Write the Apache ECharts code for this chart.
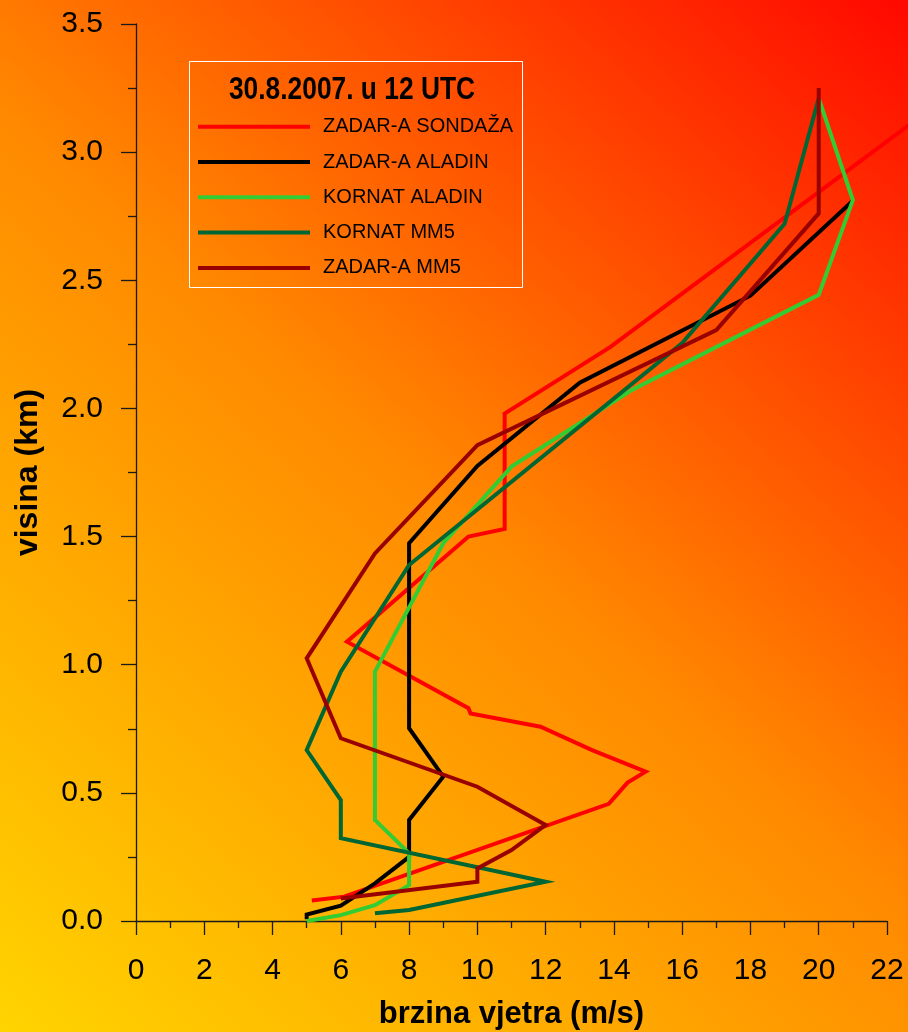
<!DOCTYPE html>
<html>
<head>
<meta charset="utf-8">
<script src="https://cdn.jsdelivr.net/npm/echarts@6/dist/echarts.min.js"></script>
<style>
html,body{margin:0;padding:0;background:#fff;}
#chart{width:908px;height:1032px;}
</style>
</head>
<body>
<div id="chart"></div>
<script>
// ---- data (wind speed m/s, height km) ----
const seriesNames = ['ZADAR-A SONDAŽA', 'ZADAR-A ALADIN', 'KORNAT ALADIN', 'KORNAT MM5', 'ZADAR-A MM5'];
const seriesColors = ['#ff0000', '#000000', '#33cc33', '#006633', '#990000'];

const sondazaSpeed  = [5.15, 6.1, 13.85, 14.4, 14.93, 13.36, 11.85, 9.8, 9.74, 6.18, 9.74, 10.8, 10.8, 13.9, 24];
const sondazaHeight = [0.08, 0.095, 0.457, 0.54, 0.583, 0.667, 0.758, 0.81, 0.83, 1.09, 1.50, 1.53, 1.98, 2.24, 3.24];

const zadarAladinSpeed  = [5, 5, 6, 7, 8, 8, 9, 8, 8, 10, 13, 18, 21];
const zadarAladinHeight = [0.007, 0.025, 0.06, 0.147, 0.25, 0.394, 0.563, 0.752, 1.474, 1.776, 2.10, 2.44, 2.81];

const kornatAladinSpeed  = [5, 6, 7, 8, 8, 7, 7, 9, 11, 14.5, 20, 21, 20];
const kornatAladinHeight = [0.0, 0.023, 0.062, 0.14, 0.264, 0.394, 0.973, 1.474, 1.773, 2.07, 2.443, 2.813, 3.21];

const kornatMM5Speed  = [7, 8, 12, 6, 6, 5, 6, 8, 16, 19, 20];
const kornatMM5Height = [0.03, 0.043, 0.153, 0.323, 0.472, 0.667, 0.973, 1.389, 2.255, 2.72, 3.21];

const zadarMM5Speed  = [6, 10, 10, 11, 12, 10, 6, 5, 7, 10, 17, 20, 20];
const zadarMM5Height = [0.088, 0.153, 0.205, 0.277, 0.375, 0.524, 0.713, 1.025, 1.434, 1.857, 2.306, 2.761, 3.25];

const xTicks = {min: 0, max: 22, interval: 2};
const yTicks = {min: 0, max: 3.5, interval: 0.5};
const legendTitle = '30.8.2007. u 12 UTC';
const xTitle = 'brzina vjetra (m/s)';
const yTitle = 'visina (km)';

// ---- build ----
const speeds  = [sondazaSpeed, zadarAladinSpeed, kornatAladinSpeed, kornatMM5Speed, zadarMM5Speed];
const heights = [sondazaHeight, zadarAladinHeight, kornatAladinHeight, kornatMM5Height, zadarMM5Height];

const SANS = "'Liberation Sans', Arial, sans-serif";
const axisColor = '#1a1a1a';

// layout
const W = 908, gridLeft = 136, gridRight = 21, gridTop = 24, gridBottom = 111;
const plotW = W - gridLeft - gridRight;
// second (hidden) coordinate system with identical scale that reaches the canvas edge,
// so the sounding line can run past the last tick as in the original
const extMax = xTicks.max * (W - gridLeft) / plotW;

const series = seriesNames.map((name, i) => ({
  name: name,
  type: 'line',
  xAxisIndex: i === 0 ? 1 : 0,
  yAxisIndex: i === 0 ? 1 : 0,
  data: speeds[i].map((s, k) => [s, heights[i][k]]),
  symbol: 'none',
  clip: true,
  color: seriesColors[i],
  lineStyle: {color: seriesColors[i], width: 4, join: 'miter'},
  z: 2 + i
}));

const axisCommon = {
  axisLine: {show: true, onZero: false, lineStyle: {color: axisColor, width: 1.3}},
  splitLine: {show: false}
};

const chart = echarts.init(document.getElementById('chart'), null, {renderer: 'canvas'});
chart.setOption({
  animation: false,
  backgroundColor: {
    type: 'linear', x: 0, y: 1032, x2: 908, y2: 0, global: true,
    colorStops: [
      {offset: 0, color: '#ffd400'},
      {offset: 0.5, color: '#ff8a00'},
      {offset: 1, color: '#ff0800'}
    ]
  },
  grid: [
    {left: gridLeft, right: gridRight, top: gridTop, bottom: gridBottom, containLabel: false, outerBoundsMode: 'none'},
    {left: gridLeft, right: 0, top: gridTop, bottom: gridBottom, containLabel: false, outerBoundsMode: 'none'}
  ],
  xAxis: [{
    ...axisCommon,
    gridIndex: 0,
    type: 'value', min: xTicks.min, max: xTicks.max, interval: xTicks.interval,
    name: xTitle, nameLocation: 'middle', nameGap: 78,
    nameTextStyle: {fontFamily: SANS, fontWeight: 'bold', fontSize: 31, color: '#000'},
    axisTick: {show: true, inside: false, length: 14, lineStyle: {color: axisColor, width: 1.3}},
    minorTick: {show: true, splitNumber: 2, length: 7, lineStyle: {color: axisColor, width: 1.3}},
    axisLabel: {margin: 35, fontFamily: SANS, fontSize: 30, color: '#000'}
  }, {
    gridIndex: 1, type: 'value', min: xTicks.min, max: extMax, show: false
  }],
  yAxis: [{
    ...axisCommon,
    gridIndex: 0,
    type: 'value', min: yTicks.min, max: yTicks.max, interval: yTicks.interval,
    name: yTitle, nameLocation: 'middle', nameGap: 92, nameRotate: 90,
    nameTextStyle: {fontFamily: SANS, fontWeight: 'bold', fontSize: 32, color: '#000'},
    axisTick: {show: true, inside: false, length: 15, lineStyle: {color: axisColor, width: 1.3}},
    minorTick: {show: true, splitNumber: 2, length: 8, lineStyle: {color: axisColor, width: 1.3}},
    axisLabel: {margin: 33, fontFamily: SANS, fontSize: 30, color: '#000', formatter: v => v.toFixed(1)}
  }, {
    gridIndex: 1, type: 'value', min: yTicks.min, max: yTicks.max, show: false
  }],
  legend: {
    show: true, orient: 'vertical', left: 198, top: 114.7,
    data: seriesNames, icon: 'rect', itemWidth: 112, itemHeight: 4, itemGap: 11.3,
    padding: 0,
    textStyle: {fontFamily: SANS, fontSize: 20, lineHeight: 24, color: '#000', padding: [0, 0, 0, 8]}
  },
  graphic: [
    {type: 'rect', shape: {x: 189.5, y: 61.5, width: 333, height: 226}, style: {fill: 'none', stroke: '#ffffff', lineWidth: 1}, z: 10, silent: true},
    {type: 'text', x: 352, y: 90, scaleX: 0.85, style: {text: legendTitle, font: "bold 31px " + SANS, fill: '#000', textAlign: 'center', textVerticalAlign: 'middle'}, z: 10, silent: true}
  ],
  series: series
});
</script>
</body>
</html>
